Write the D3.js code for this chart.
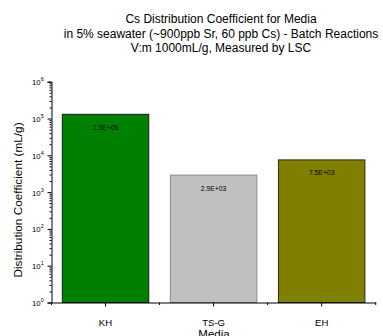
<!DOCTYPE html>
<html>
<head>
<meta charset="utf-8">
<script src="https://cdn.jsdelivr.net/npm/d3@7"></script>
<style>
  html, body { margin: 0; padding: 0; background: #fff; }
  svg { display: block; font-family: "Liberation Sans", Arial, sans-serif; }
</style>
</head>
<body>
<div id="chart"></div>
<script>
const titleLines = [
  "Cs Distribution Coefficient for Media",
  "in 5% seawater (~900ppb Sr, 60 ppb Cs) - Batch Reactions",
  "V:m 1000mL/g, Measured by LSC"
];
const categories = ["KH", "TS-G", "EH"];
const values = [1.3e5, 2.9e3, 7.5e3];
const valueLabels = ["1.3E+05", "2.9E+03", "7.5E+03"];
const barColors = ["#008000", "#c0c0c0", "#808000"];
const barStrokes = ["#1a1a1a", "#8a8a8a", "#2a2a10"];
const yTickExponents = [0, 1, 2, 3, 4, 5, 6];
const xAxisTitle = "Media";
const yAxisTitle = "Distribution Coefficient (mL/g)";

(function () {
const W = 383, H = 336;
const pLeft = 51.5, pRight = 375.7, pTop = 81.7, pBottom = 302.5;

const svg = d3.select("#chart").append("svg")
  .attr("width", W).attr("height", H);

// Title
svg.append("g").selectAll("text").data(titleLines).join("text")
  .attr("x", 221)
  .attr("y", (d, i) => 23 + i * 14.6)
  .attr("text-anchor", "middle")
  .attr("font-size", 12)
  .attr("fill", "#000")
  .text(d => d);

const x = d3.scaleBand().domain(categories).range([pLeft, pRight])
  .paddingInner(0.2).paddingOuter(0.1);
const y = d3.scaleLog().domain([1, 1e6]).range([pBottom, pTop]);

// Bars
svg.append("g").selectAll("rect").data(categories).join("rect")
  .attr("x", d => x(d))
  .attr("y", (d, i) => y(values[i]))
  .attr("width", x.bandwidth())
  .attr("height", (d, i) => pBottom - y(values[i]))
  .attr("fill", (d, i) => barColors[i])
  .attr("stroke", (d, i) => barStrokes[i])
  .attr("stroke-width", 1);

// Value labels
svg.append("g").selectAll("text").data(categories).join("text")
  .attr("x", d => x(d) + x.bandwidth() / 2)
  .attr("y", (d, i) => y(values[i]) + 15.5)
  .attr("text-anchor", "middle")
  .attr("font-size", 6.8)
  .attr("fill", "#000")
  .text((d, i) => valueLabels[i]);

// Y axis major
const majorVals = yTickExponents.map(e => Math.pow(10, e));
const gy = svg.append("g").attr("transform", `translate(${pLeft},0)`)
  .call(d3.axisLeft(y).tickValues(majorVals).tickSize(4).tickFormat(""));
gy.select(".domain").attr("stroke", "#000");
gy.selectAll(".tick line").attr("stroke", "#000");

// Y minor ticks
const minorVals = [];
yTickExponents.slice(0, -1).forEach(e => {
  for (let k = 2; k <= 9; k++) minorVals.push(k * Math.pow(10, e));
});
const gym = svg.append("g").attr("transform", `translate(${pLeft},0)`)
  .call(d3.axisLeft(y).tickValues(minorVals).tickSize(2).tickFormat(""));
gym.select(".domain").remove();
gym.selectAll(".tick line").attr("stroke", "#000");

// Y tick labels with superscripts
const yl = svg.append("g").selectAll("text").data(yTickExponents).join("text")
  .attr("x", 32)
  .attr("y", e => y(Math.pow(10, e)) + 3.5)
  .attr("text-anchor", "start")
  .attr("font-size", 7.8)
  .attr("fill", "#000");
yl.append("tspan").text("10");
yl.append("tspan").attr("dy", -4).attr("font-size", 5.5).text(e => e);

// X axis
const gx = svg.append("g").attr("transform", `translate(0,${pBottom})`)
  .call(d3.axisBottom(x).tickSize(4).tickSizeOuter(0).tickFormat(""));
gx.select(".domain").attr("stroke", "#000");
gx.selectAll(".tick line").attr("stroke", "#000");

// X boundary ticks
const boundaries = categories.slice(1).map(c => x(c) - x.step() * x.paddingInner() / 2)
  .concat([pLeft, pRight]);
svg.append("g").selectAll("line").data(boundaries).join("line")
  .attr("x1", d => d).attr("x2", d => d)
  .attr("y1", pBottom).attr("y2", pBottom + 2.5)
  .attr("stroke", "#000");

// X tick labels
svg.append("g").selectAll("text").data(categories).join("text")
  .attr("x", d => x(d) + x.bandwidth() / 2)
  .attr("y", 326)
  .attr("text-anchor", "middle")
  .attr("font-size", 9.6)
  .attr("fill", "#000")
  .text(d => d);

// Axis titles
svg.append("text")
  .attr("x", 214).attr("y", 337.5)
  .attr("text-anchor", "middle")
  .attr("font-size", 11.5)
  .text(xAxisTitle);

svg.append("text")
  .attr("transform", "translate(21.5,200) rotate(-90)")
  .attr("text-anchor", "middle")
  .attr("font-size", 11.8)
  .text(yAxisTitle);
})();
</script>
</body>
</html>
